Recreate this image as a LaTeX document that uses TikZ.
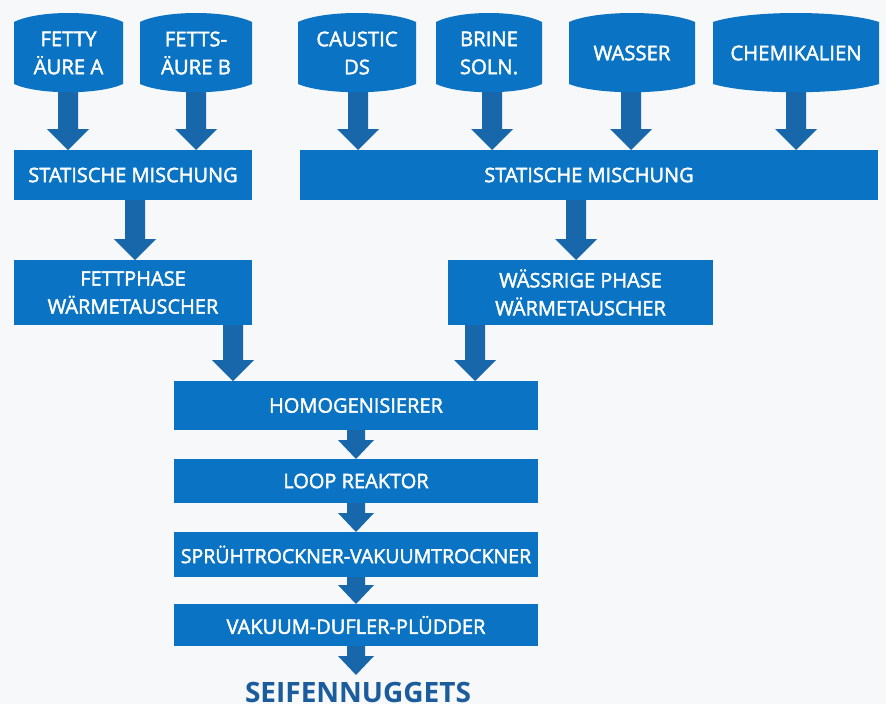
\documentclass[tikz,border=0pt]{standalone}
\usepackage{fontspec}
\setmainfont{Open Sans}
\newfontfamily\lblfont{Open Sans}[FakeBold=2]
\usetikzlibrary{calc}
\pgfdeclarelayer{bglayer}
\pgfdeclarelayer{arrowlayer}
\pgfdeclarelayer{tanklayer}
\pgfsetlayers{bglayer,arrowlayer,tanklayer,main}
\definecolor{boxblue}{HTML}{0A73C3}
\definecolor{arrowblue}{HTML}{1767AA}
\definecolor{bgcol}{HTML}{F6F8F9}
\definecolor{titleblue}{HTML}{1B5C9C}
\tikzset{
  box/.style={fill=boxblue, text=white, inner sep=0pt, outer sep=0pt, align=center,
    font=\lblfont\fontsize{20}{28}\selectfont},
  tank/.style={text=white, inner sep=0pt, outer sep=0pt, align=center,
    minimum height=62pt, font=\lblfont\fontsize{20.3}{28}\selectfont},
}
\newcommand\tankfill[1]{%
  \begin{pgfonlayer}{tanklayer}
  \fill[boxblue] (#1.north west)
    .. controls ($(#1.north west)!0.22!(#1.north east)+(0,-12)$)
    and ($(#1.north west)!0.78!(#1.north east)+(0,-12)$) .. (#1.north east)
    -- (#1.south east)
    .. controls ($(#1.south west)!0.78!(#1.south east)+(0,11)$)
    and ($(#1.south west)!0.22!(#1.south east)+(0,11)$) .. (#1.south west)
    -- cycle;
  \end{pgfonlayer}}
\newcommand\flowarrowx[6]{%
  \begin{pgfonlayer}{arrowlayer}
  \fill[arrowblue] let \p1=(#1,0 |- #2.south), \p2=(#1,0 |- #3.north) in
    (\x1-#4pt,\y1) -- (\x1+#4pt,\y1) -- (\x1+#4pt,\y2+#6pt) -- (\x1+#5pt,\y2+#6pt)
    -- (\x2,\y2) -- (\x1-#5pt,\y2+#6pt) -- (\x1-#4pt,\y2+#6pt) -- cycle;
  \end{pgfonlayer}}
\newcommand\flowarrow[3]{\flowarrowx{#1}{#2}{#3}{10}{21}{21}}
\newcommand\smallarrow[3]{\flowarrowx{#1}{#2}{#3}{9}{18}{19}}
\begin{document}
\begin{tikzpicture}[x=1pt,y=-1pt]
\useasboundingbox (0,0) rectangle (886,704);
\begin{pgfonlayer}{bglayer}
\fill[bgcol] (0,0) rectangle (886,704);
\end{pgfonlayer}
% tanks
\node[tank, minimum width=109pt] (t1) at (68.5,53) {FETTY\\ÄURE A};
\node[tank, minimum width=112pt] (t2) at (196,53) {FETTS-\\ÄURE B};
\node[tank, minimum width=118pt] (t3) at (357,53) {CAUSTIC\\DS};
\node[tank, minimum width=106pt] (t4) at (489,53) {BRINE\\SOLN.};
\node[tank, minimum width=126pt] (t5) at (632,53) {WASSER};
\node[tank, minimum width=166pt] (t6) at (796,53) {CHEMIKALIEN};
\tankfill{t1}\tankfill{t2}\tankfill{t3}\tankfill{t4}\tankfill{t5}\tankfill{t6}
% boxes
\node[box, minimum width=238pt, minimum height=50pt] (mixL) at (133,175) {STATISCHE MISCHUNG};
\node[box, minimum width=578pt, minimum height=50pt] (mixR) at (589,175) {STATISCHE MISCHUNG};
\node[box, minimum width=238pt, minimum height=65pt] (fett) at (133,292.5) {FETTPHASE\\WÄRMETAUSCHER};
\node[box, minimum width=265pt, minimum height=65pt] (wass) at (580.5,292.5) {WÄSSRIGE PHASE\\WÄRMETAUSCHER};
\node[box, minimum width=364pt, minimum height=49pt] (homo) at (356,405.5) {HOMOGENISIERER};
\node[box, minimum width=364pt, minimum height=44pt] (loop) at (356,481) {LOOP REAKTOR};
\node[box, minimum width=364pt, minimum height=45pt, font=\lblfont\fontsize{19.5}{28}\selectfont] (spray) at (356,554.5) {SPRÜHTROCKNER-VAKUUMTROCKNER};
\node[box, minimum width=364pt, minimum height=42pt] (vak) at (356,625) {VAKUUM-DUFLER-PLÜDDER};
\node[text=titleblue, inner sep=0pt, font=\bfseries\fontsize{28}{30}\selectfont] (seifen) at (358,692) {SEIFENNUGGETS};
\coordinate (seiftop) at (356,675);
% arrows
\flowarrow{68}{t1}{mixL}
\flowarrow{196}{t2}{mixL}
\flowarrow{358}{t3}{mixR}
\flowarrow{492}{t4}{mixR}
\flowarrow{631}{t5}{mixR}
\flowarrow{796}{t6}{mixR}
\flowarrow{135}{mixL}{fett}
\flowarrow{576}{mixR}{wass}
\flowarrow{233}{fett}{homo}
\flowarrow{475}{wass}{homo}
\smallarrow{356}{homo}{loop}
\smallarrow{356}{loop}{spray}
\smallarrow{356}{spray}{vak}
\smallarrow{356}{vak}{seiftop}
\end{tikzpicture}
\end{document}
